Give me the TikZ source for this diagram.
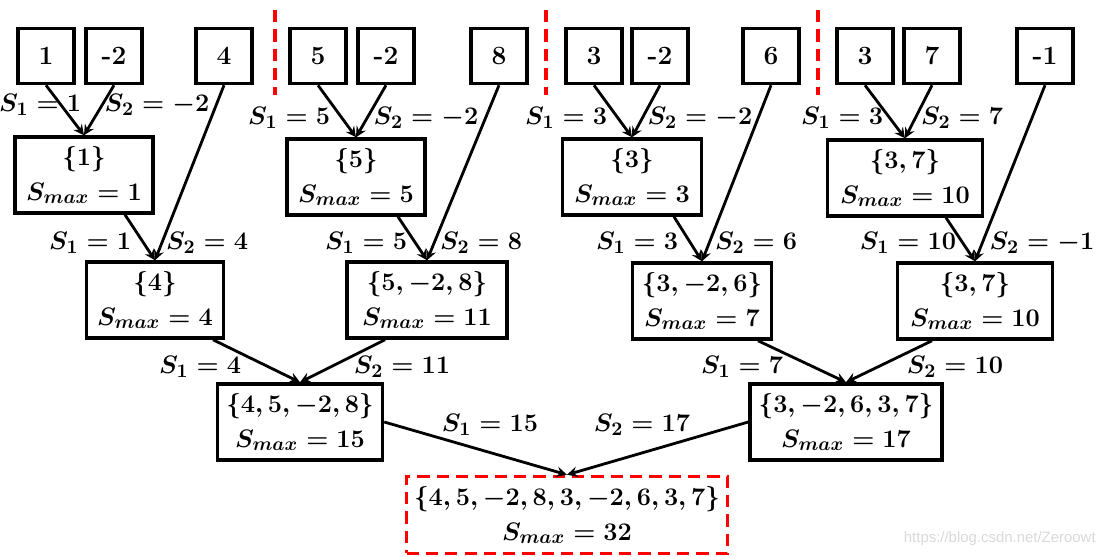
\documentclass[tikz,border=0pt]{standalone}
\usepackage{fontspec}
\newfontfamily\wmfont{Liberation Sans}
\usetikzlibrary{calc}

\tikzset{
    numbox/.style={draw, line width=2pt, minimum width=1.12cm, minimum height=1.1cm,
        inner sep=0pt, font=\fontsize{15}{20}\selectfont\bfseries},
    sumbox/.style={draw, line width=2pt, minimum height=1.52cm, inner sep=2pt,
        align=center, font=\fontsize{15}{20}\selectfont\boldmath},
    lbl/.style={inner sep=0pt, font=\fontsize{15}{20}\selectfont\boldmath},
    link/.style={->, >=stealth, line width=1.6pt},
    redash/.style={line width=2pt, dash pattern=on 7pt off 4pt},
    sep/.style={red, redash}
}

\begin{document}
\begin{tikzpicture}[x=0.02cm, y=-0.02cm]
    \useasboundingbox (0,0) rectangle (1105,557);

    % input values
    \node[numbox] (a1) at (46,56) {1};
    \node[numbox] (a2) at (114,56) {-2};
    \node[numbox] (a3) at (224,56) {4};
    \node[numbox] (b1) at (318,56) {5};
    \node[numbox] (b2) at (386,56) {-2};
    \node[numbox] (b3) at (499,56) {8};
    \node[numbox] (c1) at (594,56) {3};
    \node[numbox] (c2) at (660,56) {-2};
    \node[numbox] (c3) at (771,56) {6};
    \node[numbox] (d1) at (865,56) {3};
    \node[numbox] (d2) at (932,56) {7};
    \node[numbox] (d3) at (1045,56) {-1};

    % separators between the groups
    \draw[sep] (275,10) -- (275,95);
    \draw[sep] (546,10) -- (546,95);
    \draw[sep] (818,10) -- (818,95);

    % first merge
    \node[sumbox, minimum width=2.76cm] (a12) at (84,175) {$\{1\}$\\$S_{max}=1$};
    \node[sumbox, minimum width=2.76cm] (b12) at (356,177) {$\{5\}$\\$S_{max}=5$};
    \node[sumbox, minimum width=2.78cm] (c12) at (632,177) {$\{3\}$\\$S_{max}=3$};
    \node[sumbox, minimum width=3.1cm] (d12) at (905,178) {$\{3,7\}$\\$S_{max}=10$};

    \draw[link] (a1.south) -- (a12.north);
    \draw[link] (a2.south) -- (a12.north);
    \draw[link] (b1.south) -- (b12.north);
    \draw[link] (b2.south) -- (b12.north);
    \draw[link] (c1.south) -- (c12.north);
    \draw[link] (c2.south) -- (c12.north);
    \draw[link] (d1.south) -- (d12.north);
    \draw[link] (d2.south) -- (d12.north);

    \node[lbl] (la1) at (40,105) {$S_1=1$};
    \node[lbl] (la2) at (157,105) {$S_2=-2$};
    \node[lbl] (lb1) at (289,118) {$S_1=5$};
    \node[lbl] (lb2) at (426,118) {$S_2=-2$};
    \node[lbl] (lc1) at (566,118) {$S_1=3$};
    \node[lbl] (lc2) at (700,118) {$S_2=-2$};
    \node[lbl] (ld1) at (842,118) {$S_1=3$};
    \node[lbl] (ld2) at (962,118) {$S_2=7$};

    % second merge
    \node[sumbox, minimum width=2.74cm] (a4) at (155,300) {$\{4\}$\\$S_{max}=4$};
    \node[sumbox, minimum width=3.2cm] (b4) at (427,300) {$\{5,-2,8\}$\\$S_{max}=11$};
    \node[sumbox, minimum width=2.78cm] (c4) at (702,301) {$\{3,-2,6\}$\\$S_{max}=7$};
    \node[sumbox, minimum width=3.1cm] (d4) at (975,301) {$\{3,7\}$\\$S_{max}=10$};

    \draw[link] ($(a12.south)+(41,0)$) -- (a4.north);
    \draw[link] (a3.south) -- (a4.north);
    \draw[link] ($(b12.south)+(42,0)$) -- (b4.north);
    \draw[link] (b3.south) -- (b4.north);
    \draw[link] ($(c12.south)+(42,0)$) -- (c4.north);
    \draw[link] (c3.south) -- (c4.north);
    \draw[link] ($(d12.south)+(41,0)$) -- (d4.north);
    \draw[link] (d3.south) -- (d4.north);

    \node[lbl] (ma1) at (90,243) {$S_1=1$};
    \node[lbl] (ma2) at (207,243) {$S_2=4$};
    \node[lbl] (mb1) at (366,243) {$S_1=5$};
    \node[lbl] (mb2) at (481,243) {$S_2=8$};
    \node[lbl] (mc1) at (637,243) {$S_1=3$};
    \node[lbl] (mc2) at (756,243) {$S_2=6$};
    \node[lbl] (md1) at (908,243) {$S_1=10$};
    \node[lbl] (md2) at (1042,243) {$S_2=-1$};

    % third merge
    \node[sumbox, minimum width=3.3cm] (ab) at (300,422) {$\{4,5,-2,8\}$\\$S_{max}=15$};
    \node[sumbox, minimum width=3.84cm] (cd) at (846,422) {$\{3,-2,6,3,7\}$\\$S_{max}=17$};

    \draw[link] ($(a4.south)+(58,0)$) -- (ab.north);
    \draw[link] ($(b4.south)+(-42,0)$) -- (ab.north);
    \draw[link] ($(c4.south)+(56,0)$) -- (cd.north);
    \draw[link] ($(d4.south)+(-43,0)$) -- (cd.north);

    \node[lbl] (na1) at (200,367) {$S_1=4$};
    \node[lbl] (na2) at (402,367) {$S_2=11$};
    \node[lbl] (nc1) at (742,367) {$S_1=7$};
    \node[lbl] (nc2) at (955,367) {$S_2=10$};

    % result
    \node[sumbox, draw=red, redash, minimum width=6.42cm, minimum height=1.54cm] (all) at (567,515)
        {$\{4,5,-2,8,3,-2,6,3,7\}$\\$S_{max}=32$};

    \draw[link] (ab.east) -- (all.north);
    \draw[link] (cd.west) -- (all.north);

    \node[lbl] (r1) at (490,425) {$S_1=15$};
    \node[lbl] (r2) at (642,425) {$S_2=17$};

    \node[anchor=east, inner sep=0pt, text=gray!30, font=\wmfont\fontsize{8.5}{10}\selectfont] (wm)
        at (1096,539) {https://blog.csdn.net/Zeroowt};
\end{tikzpicture}
\end{document}
